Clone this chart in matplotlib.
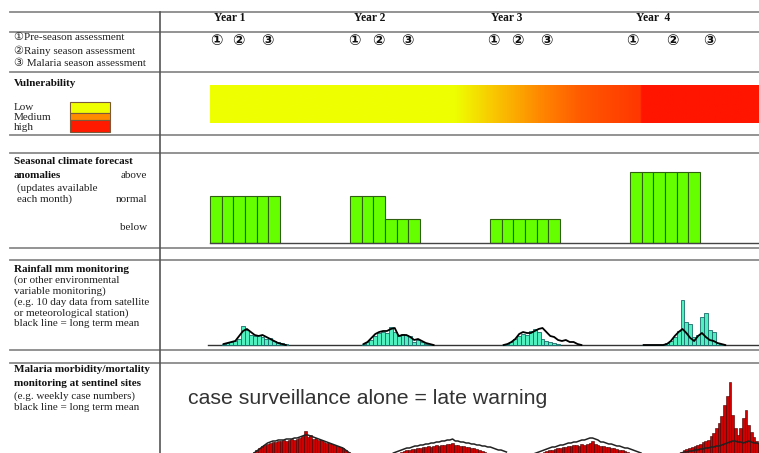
import numpy as np
import matplotlib.pyplot as plt
from matplotlib.colors import LinearSegmentedColormap
from matplotlib.patches import Rectangle

W, H = 759, 453  # figure size in pixels

# ---- data ----
years = ['Year 1', 'Year 2', 'Year 3', 'Year  4']
year_label_pos = [1.7, 13.7, 25.4, 38.0]  # months from start of Year 1 forecast
assess_marks = ['\u2460', '\u2461', '\u2462']
assess_pos = [[0.5, 2.4, 4.9], [12.4, 14.4, 16.9], [24.3, 26.3, 28.8], [36.2, 39.6, 42.8]]

# vulnerability index (0 = low, 1 = high) along the time line
vuln_month = [0, 21.0, 24.0, 28.3, 31.7, 36.9, 37.0, 47.1]
vuln_level = [0, 0, 0.25, 0.5, 0.7, 0.88, 1.0, 1.0]

# seasonal forecast anomalies per month: 1 = below, 2 = normal, 3 = above
fc_start = [0, 12, 24, 36]
fc_values = [[2, 2, 2, 2, 2, 2],
             [2, 2, 2, 1, 1, 1],
             [1, 1, 1, 1, 1, 1],
             [3, 3, 3, 3, 3, 3]]

# dekadal rainfall (mm) and long term mean, per season
rain_start = [1, 13, 25, 37]
rain_obs = [
    [1, 2, 3, 4, 6, 19, 15, 10, 9, 10, 8, 6, 7, 4, 3, 2, 1],
    [1, 3, 5, 9, 12, 13, 12, 18, 13, 9, 11, 10, 9, 3, 5, 3, 1, 0],
    [0, 1, 3, 6, 9, 11, 10, 14, 16, 13, 6, 4, 3, 2, 1],
    [0, 0, 0, 0, 0, 0, 2, 4, 8, 14, 45, 23, 21, 8, 10, 28, 32, 15, 13, 2, 1],
]
rain_mean = [
    [1, 2, 3, 4, 9, 14, 16, 13, 10, 9, 10, 8, 6, 4, 2, 1, 0],
    [1, 3, 7, 11, 13, 14, 14, 16, 17, 9, 10, 10, 8, 5, 6, 4, 2, 1, 0],
    [0, 1, 3, 6, 11, 13, 12, 12, 14, 16, 17, 13, 9, 8, 5, 4, 5, 3, 3, 1, 0],
    [0, 0, 0, 0, 0, 0, 1, 4, 9, 13, 16, 12, 7, 4, 9, 12, 8, 5, 4, 2, 1, 0],
]

# weekly malaria cases and long term mean, per season
mal_start = [3.43, 15.6, 27.6, 39.6]
mal_cases = [
    [4, 6, 8, 10, 12, 13, 14, 15, 16, 16, 17, 17, 18, 17, 18, 19, 18, 19, 20, 22,
     27, 21, 23, 19, 20, 18, 18, 16, 15, 15, 14, 13, 12, 11, 10, 8, 6, 4],
    [3, 4, 5, 6, 7, 8, 8, 9, 9, 10, 10, 11, 11, 12, 11, 12, 13, 12, 13, 13,
     14, 14, 15, 13, 13, 12, 12, 11, 11, 10, 10, 9, 8, 7, 6, 4, 3],
    [2, 3, 4, 5, 6, 7, 8, 8, 9, 10, 10, 11, 11, 12, 12, 13, 13, 12, 14, 13,
     14, 15, 17, 14, 13, 12, 12, 11, 11, 10, 10, 9, 8, 8, 7, 6, 5, 4, 3],
    [2, 3, 4, 6, 8, 9, 10, 11, 12, 13, 14, 16, 17, 18, 22, 25, 30, 35, 42, 53,
     62, 76, 43, 30, 23, 30, 40, 48, 33, 26, 21, 17, 15],
]
mal_mean = [
    [3, 5, 7, 9, 11, 13, 15, 16, 17, 17, 18, 18, 18, 19, 19, 19, 20, 20, 21, 22,
     23, 23, 22, 21, 20, 19, 18, 17, 16, 15, 14, 13, 12, 11, 10, 8, 6, 4],
    [5, 6, 7, 8, 9, 10, 10, 11, 12, 12, 13, 13, 14, 14, 15, 15, 16, 16, 17, 17,
     18, 18, 19, 17, 17, 16, 16, 15, 15, 14, 14, 13, 13, 12, 12, 11, 11, 10, 9,
     8, 8, 7, 6],
    [4, 5, 6, 7, 8, 9, 10, 11, 11, 12, 13, 13, 14, 15, 15, 16, 16, 17, 18, 18,
     19, 20, 20, 19, 18, 16, 16, 15, 14, 14, 13, 12, 12, 11, 10, 10, 9, 8, 7, 6, 5],
    [2, 3, 4, 5, 6, 6, 7, 7, 8, 8, 9, 9, 10, 10, 11, 11, 12, 12, 13, 14,
     15, 16, 17, 17, 16, 16, 15, 16, 17, 16, 15, 15, 14],
]

# ---- layout helpers ----
PX_PER_MONTH = 140 / 12.0
X0 = 210  # pixel where Year 1 starts


def month_lim():
    return ((160 - X0) / PX_PER_MONTH, (W - X0) / PX_PER_MONTH)


def panel(top, bottom):
    ax = fig.add_axes([160 / W, 1 - bottom / H, (W - 160) / W, (bottom - top) / H])
    ax.set_xlim(*month_lim())
    ax.axis('off')
    return ax


serif = ['Liberation Serif', 'DejaVu Sans']
fig = plt.figure(figsize=(W / 100, H / 100), dpi=100)

# background axes in pixel coordinates for grid lines and left column
bg = fig.add_axes([0, 0, 1, 1])
bg.set_xlim(0, W)
bg.set_ylim(H, 0)
bg.axis('off')

for y in [12, 32, 72, 135, 153, 248, 260, 350, 363]:
    bg.plot([10, W], [y, y], color='#8a8a8a', lw=1.3)
bg.plot([160, 160], [12, H], color='#555555', lw=1.2)

# left column text
txt = dict(fontsize=8, family=serif, va='center', color='#222222')
bold = dict(txt, fontweight='bold', color='#111111')
bg.text(14, 38, '\u2460Pre-season assessment', **txt)
bg.text(14, 51, '\u2461Rainy season assessment', **txt)
bg.text(14, 64, '\u2462 Malaria season assessment', **txt)

bg.text(14, 84, 'Vulnerability', **bold)
bg.text(14, 108, 'Low', **txt)
bg.text(14, 118, 'Medium', **txt)
bg.text(14, 128, 'high', **txt)
for y0, h, c in [(102, 11, '#f0ff00'), (113, 7, '#ff8c00'), (120, 12, '#ff1a00')]:
    bg.add_patch(Rectangle((70, y0), 40, h, facecolor=c, edgecolor='#7a5a3a', lw=0.8))

bg.text(14, 162, 'Seasonal climate forecast', **bold)
bg.text(14, 175, 'anomalies', **bold)
bg.text(147, 175, 'above', ha='right', **txt)
bg.text(17, 188, '(updates available', **txt)
bg.text(17, 199, 'each month)', **txt)
bg.text(147, 199, 'normal', ha='right', **txt)
bg.text(147, 227, 'below', ha='right', **txt)

bg.text(14, 269, 'Rainfall mm monitoring', **bold)
bg.text(14, 280, '(or other environmental', **txt)
bg.text(14, 291, 'variable monitoring)', **txt)
bg.text(14, 302, '(e.g. 10 day data from satellite', **txt)
bg.text(14, 313, 'or meteorological station)', **txt)
bg.text(14, 324, 'black line = long term mean', **txt)

bg.text(14, 370, 'Malaria morbidity/mortality', **bold)
bg.text(14, 383, 'monitoring at sentinel sites', **bold)
bg.text(14, 396, '(e.g. weekly case numbers)', **txt)
bg.text(14, 408, 'black line = long term mean', **txt)

# header: years and assessment points
hd = panel(12, 72)
hd.set_ylim(0, 1)
for lab, x in zip(years, year_label_pos):
    hd.text(x, 0.9, lab, ha='center', va='center', fontsize=8.3, family=serif,
            fontweight='bold', color='#111111')
for pos in assess_pos:
    for mark, x in zip(assess_marks, pos):
        hd.text(x, 0.53, mark, ha='center', va='center', fontsize=10.5,
                family=['DejaVu Sans'], fontweight='bold', color='#111111')

# vulnerability gradient
vu = panel(72, 135)
vcmap = LinearSegmentedColormap.from_list(
    'vuln', [(0, '#eeff00'), (0.25, '#f8cc00'), (0.5, '#ff8800'),
             (0.75, '#ff5000'), (0.9, '#ff3300'), (1.0, '#ff1500')])
grid_m = np.linspace(vuln_month[0], vuln_month[-1], 800)
vu.imshow(np.interp(grid_m, vuln_month, vuln_level)[None, :], cmap=vcmap,
          vmin=0, vmax=1, aspect='auto',
          extent=[vuln_month[0], vuln_month[-1], 12, 49], interpolation='bilinear')
vu.set_xlim(*month_lim())
vu.set_ylim(0, 63)

# seasonal forecast bars
fc = panel(153, 248)
fc.set_ylim(-5 / 23.67, 90 / 23.67)
for s, vals in zip(fc_start, fc_values):
    fc.bar(np.arange(len(vals)) + s, vals, width=1.0, align='edge',
           color='#66ff00', edgecolor='#2f5f10', lw=0.8)
fc.plot([0, month_lim()[1]], [0, 0], color='#444444', lw=1.0)

# rainfall monitoring
rn = panel(260, 350)
rn.set_ylim(-5, 85)
rn.plot([-0.2, month_lim()[1]], [0, 0], color='#333333', lw=1.0)
for s, obs, mean in zip(rain_start, rain_obs, rain_mean):
    xo = s + np.arange(len(obs)) / 3.0
    rn.bar(xo, obs, width=1 / 3.0, align='edge', color='#50f0c0',
           edgecolor='#1a6a6a', lw=0.6, zorder=2)
    xm = s + np.arange(len(mean)) / 3.0 + 1 / 6.0
    rn.plot(xm, mean, color='black', lw=1.3, zorder=3)

# malaria case surveillance
ml = panel(363, 453)
ml.set_ylim(5, 95)
for s, cases, mean in zip(mal_start, mal_cases, mal_mean):
    xc = s + np.arange(len(cases)) * 12 / 52.0
    ml.bar(xc, cases, width=12 / 52.0, align='edge', color='#d00000',
           edgecolor='#3a0000', lw=0.4, zorder=2)
    xm = s + np.arange(len(mean)) * 12 / 52.0 + 6 / 52.0
    ml.plot(xm, mean, color='#222222', lw=1.1, zorder=4)

bg.text(188, 398, 'case surveillance alone = late warning', fontsize=15.3,
        family=['Liberation Sans', 'DejaVu Sans'], va='center', color='#333333',
        zorder=5)

fig.savefig('out.png', dpi=100)
